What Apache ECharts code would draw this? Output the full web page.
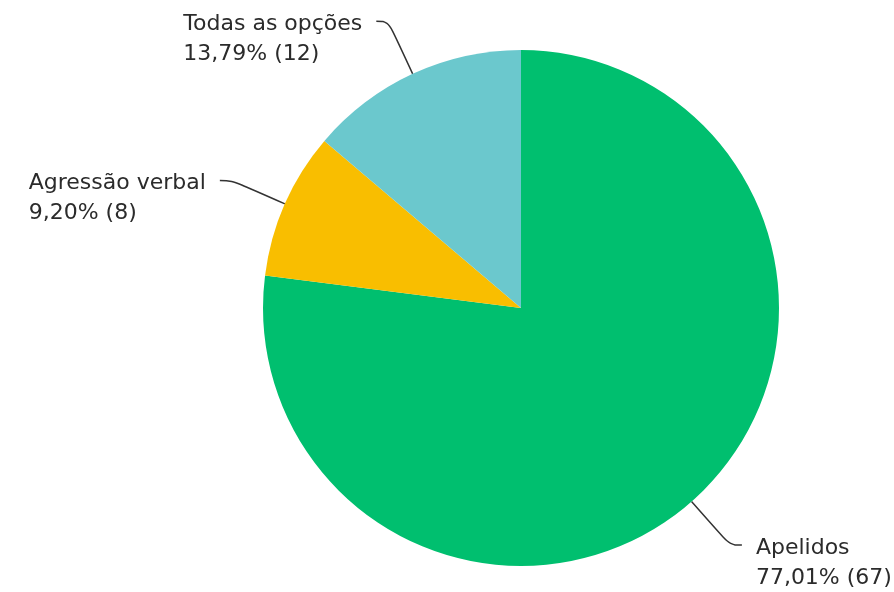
<!DOCTYPE html>
<html><head><meta charset="utf-8">
<script src="https://cdn.jsdelivr.net/npm/echarts@6/dist/echarts.min.js"></script>
<style>html,body{margin:0;padding:0;background:#fff}#c{width:894px;height:592px}</style>
</head><body><div id="c"></div>
<script>
const categories = ['Apelidos', 'Agressão verbal', 'Todas as opções'];
const counts = [67, 8, 12];
const colors = ['#00BF6F', '#F9BE00', '#6BC8CD'];

const chart = echarts.init(document.getElementById('c'), null, {renderer: 'canvas'});
chart.setOption({
  animation: false,
  series: [{
    type: 'pie',
    center: [521, 308],
    radius: 258,
    startAngle: 90,
    clockwise: true,
    avoidLabelOverlap: false,
    data: categories.map((n, i) => ({name: n, value: counts[i], itemStyle: {color: colors[i]}})),
    label: {
      show: true,
      position: 'outside',
      fontFamily: 'DejaVu Sans',
      fontSize: 22,
      lineHeight: 30,
      color: '#2b2b2b',
      distanceToLabelLine: 14,
      formatter: p => '{e| }\n{a|' + p.name + '}\n{a|' + p.percent.toFixed(2).replace('.', ',') + '% (' + p.value + ')}',
      rich: {
        e: {align: 'left', fontSize: 10, lineHeight: 36},
        a: {align: 'left', fontFamily: 'DejaVu Sans', fontSize: 22, lineHeight: 30, color: '#2b2b2b'}
      }
    },
    labelLine: {
      show: true,
      length: 58,
      length2: 12,
      smooth: 0.4,
      lineStyle: {color: '#333', width: 1.5}
    }
  }]
});
</script></body></html>
